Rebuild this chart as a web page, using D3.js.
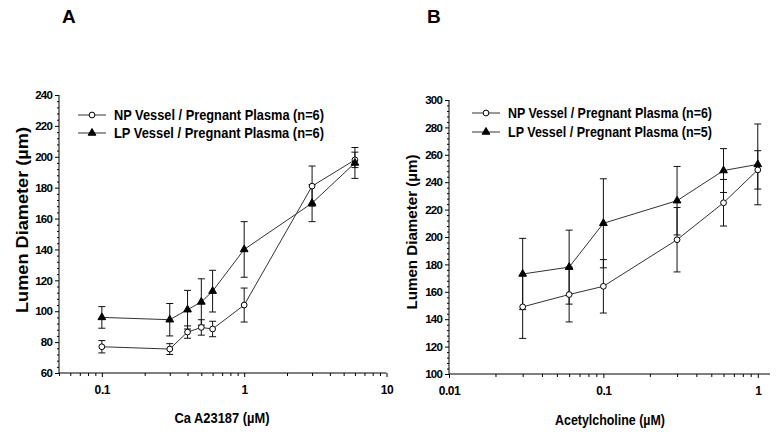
<!DOCTYPE html>
<html><head><meta charset="utf-8">
<script src="https://cdn.jsdelivr.net/npm/d3@7"></script>
<style>body{margin:0;background:#fff}svg{display:block}text{font-family:"Liberation Sans",Arial,sans-serif;fill:#000}</style>
</head><body><svg id="c" width="783" height="439"></svg>
<script>
// Panel A data
const aX = [0.1, 0.3, 0.4, 0.5, 0.6, 1, 3, 6];
const aNP = [77, 75.5, 86.5, 89.5, 88.5, 104, 181, 198];
const aNPerr = [4, 3.5, 4, 5, 5, 11, 13, 5];
const aLP = [96, 94.5, 101, 106, 113, 140, 170, 196];
const aLPerr = [7, 10.5, 12.5, 15, 13.5, 18, 12, 10];
const aYTicks = [60, 80, 100, 120, 140, 160, 180, 200, 220, 240];
const aXTicks = [0.1, 1, 10];
const aXLabels = ["0.1", "1", "10"];
const aLegend = ["NP Vessel / Pregnant Plasma (n=6)", "LP Vessel / Pregnant Plasma (n=6)"];
// Panel B data
const bX = [0.03, 0.06, 0.1, 0.3, 0.6, 1];
const bNP = [149, 158, 164, 198, 225, 249];
const bNPerr = [23, 20, 19.5, 23.5, 17, 14];
const bLP = [173, 178, 210, 226.5, 248.5, 253];
const bLPerr = [26, 27, 32.5, 25, 16, 29.5];
const bYTicks = [100, 120, 140, 160, 180, 200, 220, 240, 260, 280, 300];
const bXTicks = [0.01, 0.1, 1];
const bXLabels = ["0.01", "0.1", "1"];
const bLegend = ["NP Vessel / Pregnant Plasma (n=6)", "LP Vessel / Pregnant Plasma (n=5)"];

const svg = d3.select("#c");

function panel(cfg) {
  const g = svg.append("g");
  const x = d3.scaleLog().domain(cfg.xDom).range(cfg.xRange);
  const y = d3.scaleLinear().domain(cfg.yDom).range(cfg.yRange);
  // axes
  const yAx = d3.axisLeft(y).tickValues(cfg.yTicks).tickSize(4).tickPadding(3).tickFormat(d3.format("d"));
  const ya = g.append("g").attr("transform", `translate(${cfg.xRange[0]},0)`).call(yAx);
  const minorY = d3.range(cfg.yDom[0], cfg.yDom[1] + 0.1, 4).filter(v => !cfg.yTicks.includes(v));
  g.append("g").attr("transform", `translate(${cfg.xRange[0]},0)`)
    .call(d3.axisLeft(y).tickValues(minorY).tickSize(2).tickFormat(""))
    .select(".domain").remove();
  const xAx = d3.axisBottom(x).tickValues(cfg.xTicks).tickSize(4).tickPadding(8).tickFormat((d, i) => cfg.xLabels[i]);
  const xa = g.append("g").attr("transform", `translate(0,${cfg.yRange[0]})`).call(xAx);
  const minorX = [];
  const lo = Math.floor(Math.log10(cfg.xDom[0])), hi = Math.ceil(Math.log10(cfg.xDom[1]));
  for (let e = lo; e <= hi; e++) for (let m = 2; m <= 9; m++) {
    const v = m * Math.pow(10, e);
    if (v >= cfg.xDom[0] && v <= cfg.xDom[1]) minorX.push(v);
  }
  g.append("g").attr("transform", `translate(0,${cfg.yRange[0]})`)
    .call(d3.axisBottom(x).tickValues(minorX).tickSize(3).tickFormat(""))
    .select(".domain").remove();
  g.selectAll(".domain").attr("stroke", "#000");
  ya.select(".domain").attr("d", `M0,${cfg.yRange[0]}V${cfg.yRange[1]}`);
  xa.select(".domain").attr("d", `M${cfg.xRange[0]},0H${cfg.xRange[1]}`);
  g.selectAll(".tick line").attr("stroke", "#000");
  ya.selectAll("text").style("font-size", "11.5px").style("font-weight", "bold").attr("letter-spacing", "-0.8");
  xa.selectAll("text").style("font-size", "12px").style("font-weight", "bold").attr("letter-spacing", "-0.4");
  g.selectAll(".tick text").attr("fill", "#111");

  const series = [
    {v: cfg.np, e: cfg.npErr, type: "circle"},
    {v: cfg.lp, e: cfg.lpErr, type: "tri"}
  ];
  const line = d3.line().x((d, i) => x(cfg.xs[i])).y(d => y(d));
  series.forEach(s => {
    g.append("path").attr("d", line(s.v)).attr("fill", "none").attr("stroke", "#333").attr("stroke-width", 1);
  });
  series.forEach(s => {
    const eg = g.append("g").attr("stroke", "#111").attr("stroke-width", 1);
    s.v.forEach((v, i) => {
      const cx = x(cfg.xs[i]);
      eg.append("line").attr("x1", cx).attr("x2", cx).attr("y1", y(v - s.e[i])).attr("y2", y(v + s.e[i]));
      eg.append("line").attr("x1", cx - 3.5).attr("x2", cx + 3.5).attr("y1", y(v - s.e[i])).attr("y2", y(v - s.e[i]));
      eg.append("line").attr("x1", cx - 3.5).attr("x2", cx + 3.5).attr("y1", y(v + s.e[i])).attr("y2", y(v + s.e[i]));
    });
  });
  const circ = d3.symbol().type(d3.symbolCircle).size(26);
  const tri = d3.symbol().type(d3.symbolTriangle).size(26);
  series.forEach(s => {
    s.v.forEach((v, i) => {
      g.append("path").attr("d", s.type === "circle" ? circ() : tri())
        .attr("transform", `translate(${x(cfg.xs[i])},${y(v)})`)
        .attr("fill", s.type === "circle" ? "#fff" : "#000")
        .attr("stroke", "#000").attr("stroke-width", 1);
    });
  });
  // legend
  cfg.legend.forEach((t, i) => {
    const ly = cfg.legY[i];
    g.append("line").attr("x1", cfg.legX[0]).attr("x2", cfg.legX[1]).attr("y1", ly).attr("y2", ly).attr("stroke", "#333");
    g.append("path").attr("d", i === 0 ? circ() : tri())
      .attr("transform", `translate(${(cfg.legX[0] + cfg.legX[1]) / 2},${ly})`)
      .attr("fill", i === 0 ? "#fff" : "#000").attr("stroke", "#000");
    g.append("text").attr("x", cfg.legX[1] + 8).attr("y", ly + 5)
      .style("font-size", "15px").style("font-weight", "bold")
      .attr("textLength", cfg.legW).attr("lengthAdjust", "spacingAndGlyphs").text(t);
  });
  // titles
  g.append("text").attr("transform", `translate(${cfg.yTitleX},${cfg.yTitleY}) rotate(-90)`)
    .attr("text-anchor", "middle").style("font-size", cfg.yTitleSize + "px").style("font-weight", "bold")
    .attr("textLength", cfg.yTitleW).attr("lengthAdjust", "spacingAndGlyphs").text("Lumen Diameter (µm)");
  g.append("text").attr("x", cfg.xTitleX).attr("y", cfg.xTitleY)
    .attr("text-anchor", "middle").style("font-size", "14px").style("font-weight", "bold")
    .attr("textLength", cfg.xTitleW).attr("lengthAdjust", "spacingAndGlyphs").text(cfg.xTitle);
  g.append("text").attr("x", cfg.letterX).attr("y", 23).style("font-size", "19px").style("font-weight", "bold").text(cfg.letter);
}

panel({
  xs: aX, np: aNP, npErr: aNPerr, lp: aLP, lpErr: aLPerr,
  xDom: [0.05, 10], xRange: [59, 386.5], yDom: [60, 240], yRange: [373, 95],
  yTicks: aYTicks, xTicks: aXTicks, xLabels: aXLabels, legend: aLegend,
  legX: [78, 106], legY: [115, 133], legW: 210,
  yTitleX: 28, yTitleY: 220, yTitleW: 186, yTitleSize: 17,
  xTitleX: 222, xTitleY: 423, xTitleW: 95, xTitle: "Ca A23187 (µM)",
  letter: "A", letterX: 62
});
panel({
  xs: bX, np: bNP, npErr: bNPerr, lp: bLP, lpErr: bLPerr,
  xDom: [0.01, 1.2], xRange: [449, 770], yDom: [100, 300], yRange: [374, 100],
  yTicks: bYTicks, xTicks: bXTicks, xLabels: bXLabels, legend: bLegend,
  legX: [472, 500], legY: [113, 132], legW: 204,
  yTitleX: 417, yTitleY: 232, yTitleW: 155, yTitleSize: 15,
  xTitleX: 610, xTitleY: 425, xTitleW: 110, xTitle: "Acetylcholine (µM)",
  letter: "B", letterX: 427
});
</script></body></html>
